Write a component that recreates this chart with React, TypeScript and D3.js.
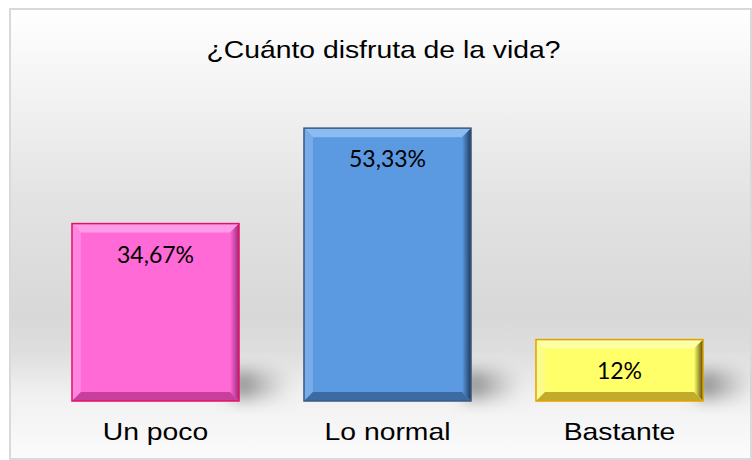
import React from "react";
import * as d3 from "d3";

const categories = ["Un poco", "Lo normal", "Bastante"];
const values = [34.67, 53.33, 12];
const valueLabels = ["34,67%", "53,33%", "12%"];
const title = "¿Cuánto disfruta de la vida?";

const palettes = [
  { fill: "#ff6ad6", top: "#ff9ce8", left: "#ff86e0", right: "#9c2a78", bottom: "#c8409c", stroke: "#e4106a" },
  { fill: "#5b99e0", top: "#8cbdf2", left: "#78abea", right: "#203a5c", bottom: "#3c6aa2", stroke: "#3b5a80" },
  { fill: "#ffff6a", top: "#ffffa6", left: "#fcfc8c", right: "#5a4c08", bottom: "#c2aa2a", stroke: "#e0a200" },
];

const W = 752;
const H = 460;

export default function App() {
  const x = d3.scaleBand<string>().domain(categories).range([39.5, 735.5]).paddingInner(0.28).paddingOuter(0.14);
  const y = d3.scaleLinear().domain([0, 60]).range([401, 94]);
  const bw = x.bandwidth();
  const b = 9;
  const sx = 1.18;

  return (
    <svg width={W} height={H} style={{ display: "block", position: "absolute", left: 0, top: 0 }}>
      <defs>
        <linearGradient id="bg" x1="0" y1="0" x2="0" y2="1">
          <stop offset="0" stopColor="#ffffff" />
          <stop offset="0.2" stopColor="#f2f2f2" />
          <stop offset="0.42" stopColor="#e3e3e3" />
          <stop offset="0.68" stopColor="#d8d8d8" />
          <stop offset="0.76" stopColor="#dedede" />
          <stop offset="0.86" stopColor="#f1f1f1" />
          <stop offset="1" stopColor="#fbfbfb" />
        </linearGradient>
        <filter id="blur" x="-50%" y="-50%" width="200%" height="200%">
          <feGaussianBlur stdDeviation="8" />
        </filter>
        <linearGradient id="shadowGrad" x1="0" y1="0" x2="1" y2="0">
          <stop offset="0" stopColor="#666" stopOpacity="0.85" />
          <stop offset="1" stopColor="#999" stopOpacity="0" />
        </linearGradient>
        {palettes.map((p, i) => (
          <linearGradient key={i} id={`rb${i}`} x1="0" y1="0" x2="1" y2="0">
            <stop offset="0" stopColor={p.fill} />
            <stop offset="1" stopColor={p.right} />
          </linearGradient>
        ))}
      </defs>
      <rect x={10} y={9} width={741} height={450} fill="url(#bg)" stroke="#d9d9d9" strokeWidth={2} />
      <g transform={`translate(${383.5},58) scale(${sx},1)`}>
        <text textAnchor="middle" fontFamily="'Liberation Sans', Arial, sans-serif" fontSize={24} fill="#000">
          {title}
        </text>
      </g>
      {categories.map((c, i) => {
        const x0 = x(c)!;
        const x1 = x0 + bw;
        const y0 = y(values[i]);
        const y1 = y(0);
        const p = palettes[i];
        return (
          <g key={c}>
            <rect x={x1 - 6} y={y1 - 30} width={58} height={28} fill="url(#shadowGrad)" filter="url(#blur)" />
            <rect x={x0} y={y0} width={bw} height={y1 - y0} fill={p.fill} />
            <polygon points={`${x0},${y0} ${x1},${y0} ${x1 - b},${y0 + b} ${x0 + b},${y0 + b}`} fill={p.top} />
            <polygon points={`${x0},${y0} ${x0 + b},${y0 + b} ${x0 + b},${y1 - b} ${x0},${y1}`} fill={p.left} />
            <polygon points={`${x1},${y0} ${x1},${y1} ${x1 - b},${y1 - b} ${x1 - b},${y0 + b}`} fill={`url(#rb${i})`} />
            <polygon points={`${x0},${y1} ${x0 + b},${y1 - b} ${x1 - b},${y1 - b} ${x1},${y1}`} fill={p.bottom} />
            <rect x={x0} y={y0} width={bw} height={y1 - y0} fill="none" stroke={p.stroke} strokeWidth={1.5} />
            <text x={x0 + bw / 2} y={y0 + 39} textAnchor="middle" fontFamily="Lato, 'Open Sans', sans-serif" fontSize={23} fill="#000">
              {valueLabels[i]}
            </text>
            <g transform={`translate(${x0 + bw / 2},440) scale(${sx},1)`}>
              <text textAnchor="middle" fontFamily="'Liberation Sans', Arial, sans-serif" fontSize={24} fill="#000">
                {c}
              </text>
            </g>
          </g>
        );
      })}
    </svg>
  );
}
